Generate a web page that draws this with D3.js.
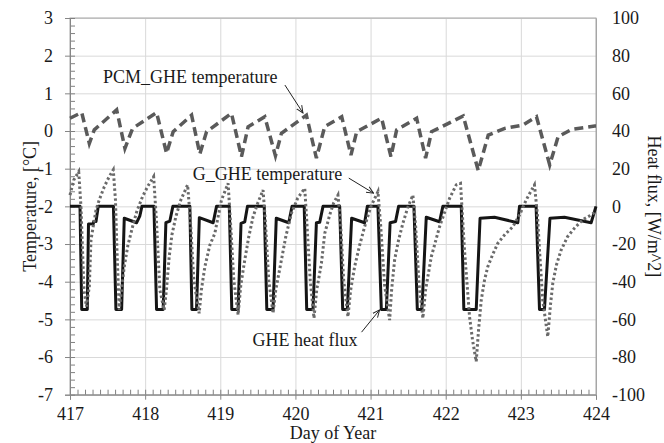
<!DOCTYPE html>
<html>
<head>
<meta charset="utf-8">
<script src="https://cdn.jsdelivr.net/npm/d3@7"></script>
<style>
  body { margin: 0; background: #fff; }
  text { font-family: "Liberation Serif", "Times New Roman", serif; }
</style>
</head>
<body>
<svg></svg>
<script>
let dayTicks = [417, 418, 419, 420, 421, 422, 423, 424];
let tempTicks = [3, 2, 1, 0, -1, -2, -3, -4, -5, -6, -7];
let fluxTicks = [100, 80, 60, 40, 20, 0, -20, -40, -60, -80, -100];

// PCM_GHE temperature, [°C]
let pcmDays = [417.000, 417.156, 417.257, 417.323, 417.621, 417.731, 417.833, 418.152, 418.285, 418.373,
  418.618, 418.728, 418.817, 419.149, 419.282, 419.370, 419.592, 419.734, 419.814, 420.146,
  420.279, 420.390, 420.616, 420.739, 420.815, 421.147, 421.271, 421.347, 421.613, 421.732,
  421.812, 422.233, 422.433, 422.566, 422.786, 423.031, 423.208, 423.384, 423.496, 423.673,
  423.983, 424.000];
let pcmTemp = [0.34, 0.49, -0.33, 0.03, 0.56, -0.46, 0.07, 0.49, -0.59, -0.02,
  0.42, -0.61, -0.02, 0.47, -0.68, 0.11, 0.38, -0.66, -0.06, 0.42,
  -0.72, 0.12, 0.38, -0.64, -0.02, 0.34, -0.68, 0.03, 0.34, -0.72,
  -0.02, 0.40, -1.05, -0.11, 0.07, 0.16, 0.38, -0.90, -0.15, 0.04,
  0.13, 0.13];

// G_GHE temperature, [°C]
let gDays = [417.000, 417.050, 417.116, 417.146, 417.186, 417.219, 417.257, 417.279, 417.346, 417.389,
  417.456, 417.522, 417.576, 417.605, 417.625, 417.655, 417.722, 417.771, 417.833, 417.891,
  417.966, 418.037, 418.113, 418.150, 418.196, 418.253, 418.283, 418.320, 418.356, 418.409,
  418.475, 418.565, 418.602, 418.648, 418.719, 418.748, 418.795, 418.861, 418.927, 419.016,
  419.104, 419.134, 419.180, 419.237, 419.273, 419.326, 419.379, 419.437, 419.499, 419.569,
  419.599, 419.645, 419.702, 419.738, 419.814, 419.871, 419.947, 420.031, 420.124, 420.150,
  420.197, 420.247, 420.283, 420.346, 420.390, 420.456, 420.509, 420.566, 420.602, 420.642,
  420.699, 420.735, 420.788, 420.855, 420.921, 421.001, 421.098, 421.134, 421.187, 421.254,
  421.280, 421.320, 421.373, 421.430, 421.493, 421.563, 421.599, 421.646, 421.696, 421.732,
  421.808, 421.918, 422.051, 422.140, 422.197, 422.250, 422.317, 422.357, 422.406, 422.437,
  422.473, 422.516, 422.560, 422.623, 422.693, 422.782, 422.893, 422.982, 423.071, 423.128,
  423.181, 423.221, 423.248, 423.291, 423.358, 423.394, 423.425, 423.473, 423.536, 423.620,
  423.713, 423.819, 423.935, 423.992];
let gTemp = [-1.70, -1.30, -1.08, -2.01, -4.22, -4.66, -4.13, -2.89, -2.10, -1.83,
  -1.48, -1.21, -1.03, -1.83, -3.16, -4.75, -3.60, -3.03, -2.54, -2.12,
  -1.74, -1.46, -1.21, -2.36, -4.22, -4.75, -4.22, -3.34, -2.76, -2.27,
  -1.83, -1.43, -2.36, -3.96, -4.84, -4.22, -3.60, -3.03, -2.72, -1.83,
  -1.39, -2.36, -3.96, -4.88, -4.09, -3.42, -2.81, -2.27, -1.91, -1.57,
  -2.36, -3.96, -4.84, -4.22, -3.42, -2.81, -2.18, -1.78, -1.52, -2.36,
  -3.96, -4.97, -4.22, -3.51, -2.72, -2.23, -1.91, -1.70, -2.50, -3.96,
  -4.93, -4.22, -3.60, -3.03, -2.54, -2.02, -1.61, -2.50, -4.09, -5.02,
  -4.22, -3.42, -2.89, -2.45, -2.04, -1.70, -2.50, -4.09, -4.97, -4.22,
  -3.34, -2.54, -1.79, -1.43, -1.39, -3.16, -4.93, -5.55, -6.12, -5.28,
  -4.49, -3.96, -3.60, -3.29, -2.98, -2.76, -2.54, -2.23, -1.83, -1.62,
  -1.43, -2.23, -3.16, -4.49, -5.46, -4.62, -4.04, -3.56, -3.16, -2.81,
  -2.58, -2.36, -2.23, -2.15];

// GHE heat flux, [W/m^2]
let fluxDays = [417.000, 417.133, 417.156, 417.230, 417.246, 417.310, 417.315, 417.346, 417.376, 417.578,
  417.611, 417.687, 417.722, 417.887, 417.930, 417.957, 418.117, 418.152, 418.240, 418.276,
  418.329, 418.369, 418.595, 418.622, 418.684, 418.721, 418.905, 418.950, 419.120, 419.153,
  419.237, 419.276, 419.326, 419.362, 419.585, 419.619, 419.702, 419.745, 419.911, 419.955,
  420.117, 420.150, 420.234, 420.279, 420.323, 420.367, 420.589, 420.629, 420.691, 420.748,
  420.921, 420.957, 421.098, 421.143, 421.210, 421.260, 421.333, 421.373, 421.577, 421.622,
  421.683, 421.741, 421.918, 421.962, 422.207, 422.241, 422.406, 422.457, 422.649, 422.959,
  422.982, 423.203, 423.248, 423.314, 423.387, 423.580, 423.935, 424.000];
let fluxVals = [0, 0, -54.7, -54.7, -9.4, -9.2, -8.0, -8.0, 0, 0,
  -54.7, -54.7, -6.3, -8.7, -5.0, 0, 0, -54.7, -54.7, -8.7,
  -7.8, 0, 0, -54.7, -54.7, -6.0, -8.7, 0, 0, -54.7,
  -54.7, -9.0, -8.2, 0, 0, -54.7, -54.7, -6.3, -8.7, 0,
  0, -54.7, -54.7, -8.7, -8.5, 0, 0, -54.7, -54.7, -6.3,
  -8.7, 0, 0, -54.7, -54.7, -8.7, -8.0, 0, 0, -54.7,
  -54.7, -5.8, -8.2, 0, 0, -54.7, -54.7, -6.3, -5.8, -8.7,
  0, 0, -54.7, -54.7, -6.3, -5.8, -8.7, 0];

// annotation labels and arrows, in data units (day, temperature)
let noteTexts = ['PCM_GHE temperature', 'G_GHE temperature', 'GHE heat flux'];
let noteAt = [[417.44, 1.27], [418.635, -1.30], [419.43, -5.71]];
let arrowFrom = [[419.86, 1.22], [420.71, -1.25], [420.88, -5.34]];
let arrowTo = [[420.10, 0.48], [421.04, -1.65], [421.12, -4.75]];

let width = 664;
let height = 443;
let plotLeft = 70, plotRight = 596, plotTop = 18, plotBottom = 394.7;
let serif = '"Liberation Serif", "Times New Roman", serif';

let svg = d3.select('svg').attr('width', width).attr('height', height);

let xScale = d3.scaleLinear().domain([417, 424]).range([plotLeft, plotRight]);
let yScale = d3.scaleLinear().domain([-7, 3]).range([plotBottom, plotTop]);
let y2Scale = d3.scaleLinear().domain([-100, 100]).range([plotBottom, plotTop]);

// gridlines
svg.append('g')
  .attr('transform', 'translate(0,' + plotBottom + ')')
  .call(d3.axisBottom(xScale).tickValues(dayTicks).tickSize(-(plotBottom - plotTop)).tickFormat(''))
  .call(g => g.select('.domain').remove())
  .selectAll('line').attr('stroke', '#d9d9d9').attr('stroke-width', 1);

svg.append('g')
  .attr('transform', 'translate(' + plotLeft + ',0)')
  .call(d3.axisLeft(yScale).tickValues(tempTicks).tickSize(-(plotRight - plotLeft)).tickFormat(''))
  .call(g => g.select('.domain').remove())
  .selectAll('line').attr('stroke', '#d9d9d9').attr('stroke-width', 1);

// frame
svg.append('rect')
  .attr('x', plotLeft).attr('y', plotTop)
  .attr('width', plotRight - plotLeft).attr('height', plotBottom - plotTop)
  .attr('fill', 'none').attr('stroke', '#a6a6a6').attr('stroke-width', 1);

// minor ticks
let minorX = d3.range(417, 424.001, 0.1);
svg.append('g')
  .attr('transform', 'translate(0,' + plotBottom + ')')
  .call(d3.axisTop(xScale).tickValues(minorX).tickSize(5).tickFormat(''))
  .call(g => g.select('.domain').remove())
  .selectAll('line').attr('stroke', '#808080');

let minorY = d3.range(-7, 3.001, 0.2);
svg.append('g')
  .attr('transform', 'translate(' + plotLeft + ',0)')
  .call(d3.axisRight(yScale).tickValues(minorY).tickSize(5).tickFormat(''))
  .call(g => g.select('.domain').remove())
  .selectAll('line').attr('stroke', '#808080');

// axes (plain hyphen for negatives, as in the original)
let plain = d => String(d);

let xAxis = svg.append('g')
  .attr('transform', 'translate(0,' + plotBottom + ')')
  .call(d3.axisBottom(xScale).tickValues(dayTicks).tickSize(5).tickPadding(8).tickFormat(plain));

let yAxis = svg.append('g')
  .attr('transform', 'translate(' + plotLeft + ',0)')
  .call(d3.axisLeft(yScale).tickValues(tempTicks).tickSize(5).tickPadding(12).tickFormat(plain));

let y2Axis = svg.append('g')
  .attr('transform', 'translate(' + plotRight + ',0)')
  .call(d3.axisRight(y2Scale).tickValues(fluxTicks).tickSize(0).tickPadding(16).tickFormat(plain));

[xAxis, yAxis, y2Axis].forEach(a => {
  a.attr('font-family', serif).attr('font-size', 18);
  a.select('.domain').attr('stroke', '#868686');
  a.selectAll('line').attr('stroke', '#868686');
  a.selectAll('text').attr('fill', '#1a1a1a');
});
y2Axis.select('.domain').attr('stroke', '#a6a6a6');

// series
let tempLine = d3.line().x(d => xScale(d[0])).y(d => yScale(d[1]));
let fluxLine = d3.line().x(d => xScale(d[0])).y(d => y2Scale(d[1]));

svg.append('path')
  .datum(fluxDays.map((d, i) => [d, fluxVals[i]]))
  .attr('d', fluxLine)
  .attr('fill', 'none')
  .attr('stroke', '#151515')
  .attr('stroke-width', 3)
  .attr('stroke-linejoin', 'round');

svg.append('path')
  .datum(gDays.map((d, i) => [d, gTemp[i]]))
  .attr('d', tempLine)
  .attr('fill', 'none')
  .attr('stroke', '#6a6a6a')
  .attr('stroke-width', 3)
  .attr('stroke-dasharray', '2.5,2.5');

svg.append('path')
  .datum(pcmDays.map((d, i) => [d, pcmTemp[i]]))
  .attr('d', tempLine)
  .attr('fill', 'none')
  .attr('stroke', '#5a5a5a')
  .attr('stroke-width', 3.5)
  .attr('stroke-dasharray', '9,5');

// annotations
svg.append('defs').append('marker')
  .attr('id', 'arrow')
  .attr('viewBox', '0 0 10 10')
  .attr('refX', 9).attr('refY', 5)
  .attr('markerWidth', 8).attr('markerHeight', 8)
  .attr('markerUnits', 'userSpaceOnUse')
  .attr('orient', 'auto')
  .append('path')
  .attr('d', 'M0,1 L9,5 L0,9')
  .attr('fill', 'none')
  .attr('stroke', '#222')
  .attr('stroke-width', 1.2);

noteTexts.forEach((t, i) => {
  svg.append('text')
    .attr('x', xScale(noteAt[i][0]))
    .attr('y', yScale(noteAt[i][1]))
    .attr('fill', '#1a1a1a')
    .attr('font-family', serif)
    .attr('font-size', 18)
    .text(t);
  svg.append('line')
    .attr('x1', xScale(arrowFrom[i][0])).attr('y1', yScale(arrowFrom[i][1]))
    .attr('x2', xScale(arrowTo[i][0])).attr('y2', yScale(arrowTo[i][1]))
    .attr('stroke', '#222')
    .attr('stroke-width', 1)
    .attr('marker-end', 'url(#arrow)');
});

// axis titles
svg.append('text')
  .attr('transform', 'translate(36,' + ((plotTop + plotBottom) / 2) + ') rotate(-90)')
  .attr('text-anchor', 'middle')
  .attr('fill', '#1a1a1a')
  .attr('font-family', serif)
  .attr('font-size', 18)
  .text('Temperature, [°C]');

svg.append('text')
  .attr('transform', 'translate(648,' + ((plotTop + plotBottom) / 2) + ') rotate(90)')
  .attr('text-anchor', 'middle')
  .attr('fill', '#1a1a1a')
  .attr('font-family', serif)
  .attr('font-size', 18)
  .text('Heat flux, [W/m^2]');

svg.append('text')
  .attr('x', (plotLeft + plotRight) / 2)
  .attr('y', 439)
  .attr('text-anchor', 'middle')
  .attr('fill', '#1a1a1a')
  .attr('font-family', serif)
  .attr('font-size', 18)
  .text('Day of Year');
</script>
</body>
</html>
